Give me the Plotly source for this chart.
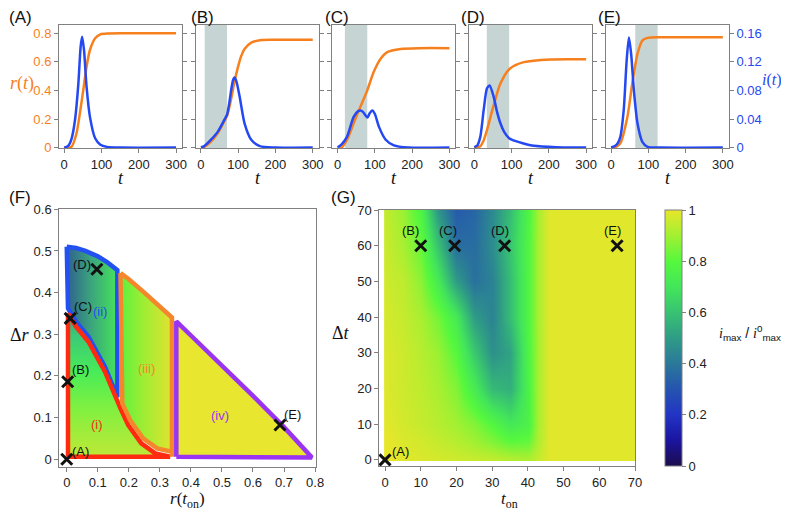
import plotly.graph_objects as go

W, H = 789, 519          # size of the reference picture
PAD = 8                  # default page margin around the figure
FIG_W, FIG_H = W - 2 * PAD, H - 2 * PAD

# ---------------- data ----------------
# top row: r(t) (orange, left axis) and i(t) (blue, right axis), t in [0, 300]
R_T_A = [0, 10, 20, 33, 42, 51, 60, 69, 83, 97, 120, 160, 300]
R_A = [0, 0.001, 0.007, 0.1, 0.24, 0.40, 0.567, 0.683, 0.765, 0.793, 0.799, 0.8, 0.8]
I_T_A = [0, 6, 13, 20, 29, 38, 44, 48, 53, 60, 69, 83, 97, 115, 150, 300]
I_A = [0.0003, 0.0008, 0.004, 0.013, 0.039, 0.09, 0.141, 0.155, 0.137, 0.085, 0.043, 0.013, 0.004, 0.001, 0, 0]

R_T_B = [0, 9, 27, 45, 63, 70, 81, 90, 99, 108, 117, 135, 162, 200, 300]
R_B = [0, 0.005, 0.042, 0.1, 0.185, 0.22, 0.34, 0.46, 0.56, 0.64, 0.69, 0.735, 0.753, 0.755, 0.755]
I_T_B = [0, 9, 27, 45, 63, 70, 76, 81, 86, 90, 95, 104, 117, 135, 158, 200, 300]
I_B = [0.0005, 0.002, 0.011, 0.022, 0.039, 0.046, 0.062, 0.08, 0.094, 0.098, 0.093, 0.071, 0.034, 0.011, 0.002, 0, 0]

R_T_C = [0, 12, 25, 43, 61, 79, 97, 115, 133, 169, 220, 300]
R_C = [0, 0.005, 0.053, 0.17, 0.285, 0.397, 0.53, 0.62, 0.668, 0.69, 0.696, 0.696]
I_T_C = [0, 10, 25, 43, 55, 61, 68, 75, 80, 86, 93, 100, 111, 129, 151, 190, 300]
I_C = [0.0005, 0.004, 0.015, 0.043, 0.051, 0.052, 0.05, 0.045, 0.042, 0.048, 0.052, 0.047, 0.029, 0.011, 0.003, 0, 0]

R_T_D = [0, 16, 25, 34, 52, 70, 95, 133, 205, 300]
R_D = [0, 0.01, 0.05, 0.123, 0.297, 0.448, 0.552, 0.598, 0.617, 0.618]
I_T_D = [0, 8, 16, 25, 34, 41, 52, 61, 70, 80, 93.5, 100, 130, 160, 220, 300]
I_D = [0.0005, 0.003, 0.015, 0.052, 0.083, 0.087, 0.071, 0.05, 0.034, 0.022, 0.013, 0.011, 0.006, 0.0024, 0.0005, 0]

R_T_E = [0, 12, 25, 44, 57, 71, 84, 98, 130, 300]
R_E = [0, 0.003, 0.03, 0.216, 0.448, 0.656, 0.749, 0.768, 0.772, 0.772]
I_T_E = [0, 10, 18, 25, 34, 42, 48, 54, 62, 71, 84, 98, 130, 300]
I_E = [0.0003, 0.002, 0.006, 0.015, 0.052, 0.122, 0.154, 0.131, 0.076, 0.034, 0.008, 0.001, 0, 0]

PANEL_NAMES = ["(A)", "(B)", "(C)", "(D)", "(E)"]
T_ON = [None, 10, 19.5, 33.5, 65]      # start of intervention (grey band)
DELTA_T = 60                            # band length

T_TICKS = [0, 100, 200, 300]
R_TICKS = [0, 0.2, 0.4, 0.6, 0.8]
I_TICKS = [0, 0.04, 0.08, 0.12, 0.16]

# panel F: phase diagram in (r(t_on), delta r)
OUTER_R = [0, 0.03, 0.06, 0.1, 0.13, 0.163, 0.173, 0.2, 0.25, 0.3, 0.339, 0.353, 0.4, 0.5, 0.6, 0.7, 0.79]
OUTER_DR = [0.51, 0.507, 0.5, 0.487, 0.473, 0.454, 0.447, 0.432, 0.4, 0.368, 0.34, 0.331, 0.297, 0.225, 0.152, 0.077, 0.004]
RED_R = [0.004, 0.03, 0.07, 0.123, 0.163, 0.173, 0.198, 0.24, 0.285, 0.333]
RED_DR = [0.35, 0.318, 0.282, 0.21, 0.137, 0.122, 0.082, 0.038, 0.014, 0.006]
SPLIT_R = [0.163, 0.173, 0.339, 0.353]  # region edges ii|iii|iv
REGION_NAMES = ["(i)", "(ii)", "(iii)", "(iv)"]
REGION_LABEL_R = [0.097, 0.107, 0.258, 0.494]
REGION_LABEL_DR = [0.083, 0.354, 0.218, 0.106]
F_MARK_R = [0, 0.003, 0.011, 0.097, 0.687]
F_MARK_DR = [0, 0.186, 0.338, 0.456, 0.082]

# panel G: i_max / i0_max over (t_on, delta t)
G_TON = [0, 0.5, 5, 10, 15, 20, 25, 30, 35, 40, 43, 46, 50, 60, 70]
G_DT = [0, 0.5, 5, 10, 20, 30, 40, 50, 60, 70]
G_Z = [
    [1.00, 1.00, 0.99, 0.98, 0.97, 0.96, 0.95, 0.94, 0.92, 0.91, 0.95, 0.99, 0.99, 0.99, 0.99],
    [1.00, 1.00, 0.99, 0.98, 0.97, 0.96, 0.95, 0.94, 0.92, 0.91, 0.95, 0.99, 0.99, 0.99, 0.99],
    [1.00, 1.00, 0.98, 0.97, 0.95, 0.93, 0.90, 0.86, 0.81, 0.82, 0.92, 0.99, 0.99, 0.99, 0.99],
    [0.99, 0.99, 0.97, 0.95, 0.93, 0.90, 0.86, 0.79, 0.71, 0.76, 0.91, 0.99, 0.99, 0.99, 0.99],
    [0.99, 0.98, 0.96, 0.94, 0.91, 0.86, 0.73, 0.58, 0.55, 0.76, 0.91, 0.99, 0.99, 0.99, 0.99],
    [0.98, 0.98, 0.96, 0.93, 0.89, 0.80, 0.62, 0.47, 0.52, 0.77, 0.91, 0.99, 0.99, 0.99, 0.99],
    [0.98, 0.97, 0.95, 0.91, 0.84, 0.72, 0.50, 0.43, 0.59, 0.78, 0.91, 0.99, 0.99, 0.99, 0.99],
    [0.97, 0.96, 0.94, 0.87, 0.72, 0.50, 0.38, 0.43, 0.59, 0.78, 0.91, 0.99, 0.99, 0.99, 0.99],
    [0.96, 0.95, 0.91, 0.82, 0.60, 0.37, 0.37, 0.46, 0.61, 0.78, 0.91, 0.99, 0.99, 0.99, 0.99],
    [0.95, 0.94, 0.89, 0.77, 0.48, 0.32, 0.35, 0.45, 0.59, 0.77, 0.91, 0.99, 0.99, 0.99, 0.99],
]
G_MARK_T = [0, 10, 19.5, 33.5, 65]
G_MARK_DT = [0, 60, 60, 60, 60]
MARK_NAMES = ["(A)", "(B)", "(C)", "(D)", "(E)"]

# ---------------- styling ----------------
ORANGE = "#f7801e"
BLUE = "#2448f2"
BAND = "#c6d4d4"
FRAME = "#808080"
SERIF = "Liberation Serif"
SANS = "Liberation Sans"
SCALE = [[0, "#1c0c4c"], [0.1, "#1b14a0"], [0.2, "#2234c4"], [0.3, "#2554b0"],
         [0.4, "#2a789a"], [0.5, "#2f9c86"], [0.6, "#38c272"], [0.7, "#43e65a"],
         [0.8, "#56f83e"], [0.9, "#a2f032"], [1, "#e8e62a"]]


def fx(p):
    # picture pixel -> paper fraction
    return (p - PAD) / FIG_W


def fy(p):
    return 1 - (p - PAD) / FIG_H


def label(x, y, text, size=13, color="#111", family=SANS, xref="paper", yref="paper", **kw):
    d = dict(x=x, y=y, xref=xref, yref=yref, text=text, showarrow=False, xanchor="center",
             yanchor="middle", font=dict(family=family, size=size, color=color))
    d.update(kw)
    return d


AX = dict(showgrid=False, zeroline=False, automargin=False, linecolor=FRAME, linewidth=1,
          ticks="outside", ticklen=4, tickcolor=FRAME, tickfont=dict(family=SANS, size=13, color="#222"))

fig = go.Figure()
annotations = []
shapes = []

# ---------------- top row ----------------
series = [(R_T_A, R_A, I_T_A, I_A), (R_T_B, R_B, I_T_B, I_B), (R_T_C, R_C, I_T_C, I_C),
          (R_T_D, R_D, I_T_D, I_D), (R_T_E, R_E, I_T_E, I_E)]
lefts = [59, 195.7, 332.4, 469.1, 605.8]
name_x = [20, 202, 337, 473, 609]
pw = 123
top_dom = [fy(148), fy(25)]
r_range = [-0.003, 0.858]
for k, (rt, rv, it, iv) in enumerate(series):
    n = k + 1
    ni = k + 6
    xa, ya, yi = f"x{n}", f"y{n}", f"y{ni}"
    fig.update_layout(**{
        f"xaxis{n}": dict(AX, domain=[fx(lefts[k]), fx(lefts[k] + pw)], anchor=ya, range=[-14, 316],
                          mirror=True, tickvals=T_TICKS, ticktext=[str(v) for v in T_TICKS]),
        f"yaxis{n}": dict(AX, domain=top_dom, anchor=xa, range=r_range,
                          mirror=("ticks" if k < 4 else True), tickvals=R_TICKS,
                          ticktext=["0", "0.2", "0.4", "0.6", "0.8"], showticklabels=(k == 0),
                          tickfont=dict(family=SANS, size=13, color=ORANGE)),
        f"yaxis{ni}": dict(AX, overlaying=ya, anchor=xa, side="right",
                           range=[r_range[0] / 5, r_range[1] / 5], visible=(k == 4),
                           tickvals=I_TICKS, ticktext=["0", "0.04", "0.08", "0.12", "0.16"],
                           tickfont=dict(family=SANS, size=13, color=BLUE), showline=False),
    })
    if T_ON[k] is not None:
        shapes.append(dict(type="rect", xref=xa, yref=f"{ya} domain", x0=T_ON[k], x1=T_ON[k] + DELTA_T,
                           y0=0, y1=1, fillcolor=BAND, line=dict(width=0), layer="below"))
    fig.add_trace(go.Scatter(x=rt, y=rv, xaxis=xa, yaxis=ya, mode="lines",
                             line=dict(color=ORANGE, width=2.5, shape="spline", smoothing=0.7),
                             showlegend=False, hoverinfo="skip"))
    fig.add_trace(go.Scatter(x=it, y=iv, xaxis=xa, yaxis=yi, mode="lines",
                             line=dict(color=BLUE, width=2.5, shape="spline", smoothing=0.7),
                             showlegend=False, hoverinfo="skip"))
    annotations.append(label(fx(name_x[k]), fy(17), PANEL_NAMES[k], size=17))
    annotations.append(label(fx(lefts[k] + 62), fy(178), "<i>t</i>", size=18, family=SERIF))

annotations.append(label(fx(22), fy(83), "<i>r</i>(<i>t</i>)", size=18, color=ORANGE, family=SERIF))
annotations.append(label(fx(760), fy(80), "<i>i</i>(<i>t</i>)", size=16, color=BLUE, family=SERIF,
                         xanchor="left"))

# ---------------- panel F ----------------
fxa, fya = "x6", "y11"
fig.update_layout(
    xaxis6=dict(AX, domain=[fx(59.3), fx(316)], anchor=fya, range=[-0.024, 0.803], mirror=True,
                tickvals=[i / 10 for i in range(9)], ticktext=["0"] + [f"{i / 10:.1f}" for i in range(1, 9)]),
    yaxis11=dict(AX, domain=[fy(466.7), fy(209.3)], anchor=fxa, range=[-0.018, 0.6], mirror=True,
                 tickvals=[i / 10 for i in range(7)], ticktext=["0"] + [f"{i / 10:.1f}" for i in range(1, 7)]),
)
LW = 4.5
OFF = 0.012  # half-stroke offset so neighbouring outlines sit side by side
base = 0.006
s1, s2, s3, s4 = SPLIT_R

# (ii) blue: left edge, top curve, right edge, red curve (shifted up)
ii_top = [(r, d) for r, d in zip(OUTER_R, OUTER_DR) if r <= s1]
ii_bot = [(r, d + OFF) for r, d in zip(RED_R, RED_DR) if r <= s1][::-1]
ii = ii_top + ii_bot
# (i) red
i_poly = [(RED_R[0], base)] + list(zip(RED_R, RED_DR)) + [(RED_R[0], base)]
# (iii) orange
iii_top = [(r, d) for r, d in zip(OUTER_R, OUTER_DR) if s2 <= r <= s3]
iii_bot = [(r + OFF * 0.5, d + OFF) for r, d in zip(RED_R, RED_DR) if r >= s2][::-1]
iii = iii_top + [(s3, base)] + iii_bot + [iii_top[0]]
# (iv) purple
iv_top = [(r, d) for r, d in zip(OUTER_R, OUTER_DR) if r >= s4]
iv = [(s4, base)] + iv_top + [(s4, base)]

regions = [
    (ii + [ii[0]], "#2350f0", dict(type="horizontal", start=0, stop=s1,
                                   colorscale=[[0, "#30608e"], [0.45, "#3aa07e"], [1, "#46e45c"]])),
    (i_poly, "#ff2a10", dict(type="vertical", start=0, stop=0.35,
                             colorscale=[[0, "#c2e836"], [0.35, "#80f040"], [0.6, "#48ec58"],
                                         [0.85, "#3cc878"], [1, "#3a9e86"]])),
    (iii, "#f5862c", dict(type="horizontal", start=s2, stop=s3,
                          colorscale=[[0, "#5cf040"], [0.4, "#98ee34"], [1, "#e2e230"]])),
    (iv, "#9a33f2", dict(type="horizontal", start=s4, stop=0.8,
                         colorscale=[[0, "#e8e62e"], [1, "#e8e62e"]])),
]
for poly, col, grad in regions:
    fig.add_trace(go.Scatter(x=[p[0] for p in poly], y=[p[1] for p in poly], xaxis=fxa, yaxis=fya,
                             mode="lines", fill="toself", fillgradient=grad,
                             line=dict(color=col, width=LW), showlegend=False, hoverinfo="skip"))

region_cols = ["#ff2a10", "#2350f0", "#f5862c", "#9a33f2"]
for name, r, d, c in zip(REGION_NAMES, REGION_LABEL_R, REGION_LABEL_DR, region_cols):
    annotations.append(label(r, d, name, color=c, xref=fxa, yref=fya))

fig.add_trace(go.Scatter(x=F_MARK_R, y=F_MARK_DR, xaxis=fxa, yaxis=fya, mode="markers", cliponaxis=False,
                         marker=dict(symbol="x-thin", size=11, line=dict(width=3, color="#111")),
                         showlegend=False, hoverinfo="skip"))
f_shift = [(14, 8), (13, 12), (13, 12), (-15, 5), (13, 11)]
for name, r, d, (sx, sy) in zip(MARK_NAMES, F_MARK_R, F_MARK_DR, f_shift):
    annotations.append(label(r, d, name, xref=fxa, yref=fya, xshift=sx, yshift=sy))

annotations += [
    label(fx(20), fy(197), "(F)", size=17),
    label(fx(20), fy(335), "Δ<i>r</i>", size=18, family=SERIF),
    label(fx(187), fy(500), "<i>r</i>(<i>t</i><sub>on</sub>)", size=17, family=SERIF),
]

# ---------------- panel G ----------------
gxa, gya = "x7", "y12"
fig.update_layout(
    xaxis7=dict(AX, domain=[fx(379.3), fx(635)], anchor=gya, range=[-1.6, 70], mirror=True,
                tickvals=list(range(0, 71, 10))),
    yaxis12=dict(AX, domain=[fy(466), fy(210)], anchor=gxa, range=[-1.7, 70], mirror=True,
                 tickvals=list(range(0, 71, 10))),
)
fig.add_trace(go.Heatmap(
    x=G_TON, y=G_DT, z=G_Z, xaxis=gxa, yaxis=gya, zsmooth="best", colorscale=SCALE, zmin=0, zmax=1,
    hoverinfo="skip",
    colorbar=dict(x=fx(665), xanchor="left", y=fy(338), yanchor="middle", len=256 / FIG_H,
                  lenmode="fraction", thickness=17, thicknessmode="pixels", xpad=0, ypad=0,
                  outlinecolor=FRAME, outlinewidth=1, ticks="outside", ticklen=4, tickcolor=FRAME,
                  tickvals=[0, 0.2, 0.4, 0.6, 0.8, 1], ticktext=["0", "0.2", "0.4", "0.6", "0.8", "1"],
                  tickfont=dict(family=SANS, size=13, color="#222")),
))
fig.add_trace(go.Scatter(x=G_MARK_T, y=G_MARK_DT, xaxis=gxa, yaxis=gya, mode="markers", cliponaxis=False,
                         marker=dict(symbol="x-thin", size=11, line=dict(width=3, color="#111")),
                         showlegend=False, hoverinfo="skip"))
g_shift = [(15, 8), (-10, 15), (-7, 15), (-5, 15), (-5, 15)]
for name, t, d, (sx, sy) in zip(MARK_NAMES, G_MARK_T, G_MARK_DT, g_shift):
    annotations.append(label(t, d, name, xref=gxa, yref=gya, xshift=sx, yshift=sy))

annotations += [
    label(fx(343), fy(197), "(G)", size=17),
    label(fx(341), fy(333), "Δ<i>t</i>", size=18, family=SERIF),
    label(fx(509), fy(500), "<i>t</i><sub>on</sub>", size=17, family=SERIF),
    label(fx(717), fy(333), "<span style='font-family:Liberation Serif'><i>i</i></span><sub>max</sub>"
          " / <span style='font-family:Liberation Serif'><i>i</i></span><sup>0</sup><sub>max</sub>",
          size=14, xanchor="left"),
]

fig.update_layout(width=FIG_W, height=FIG_H, autosize=False, margin=dict(l=0, r=0, t=0, b=0),
                  paper_bgcolor="white", plot_bgcolor="white", showlegend=False,
                  annotations=annotations, shapes=shapes, font=dict(family=SANS))
fig.write_html("out.html")
